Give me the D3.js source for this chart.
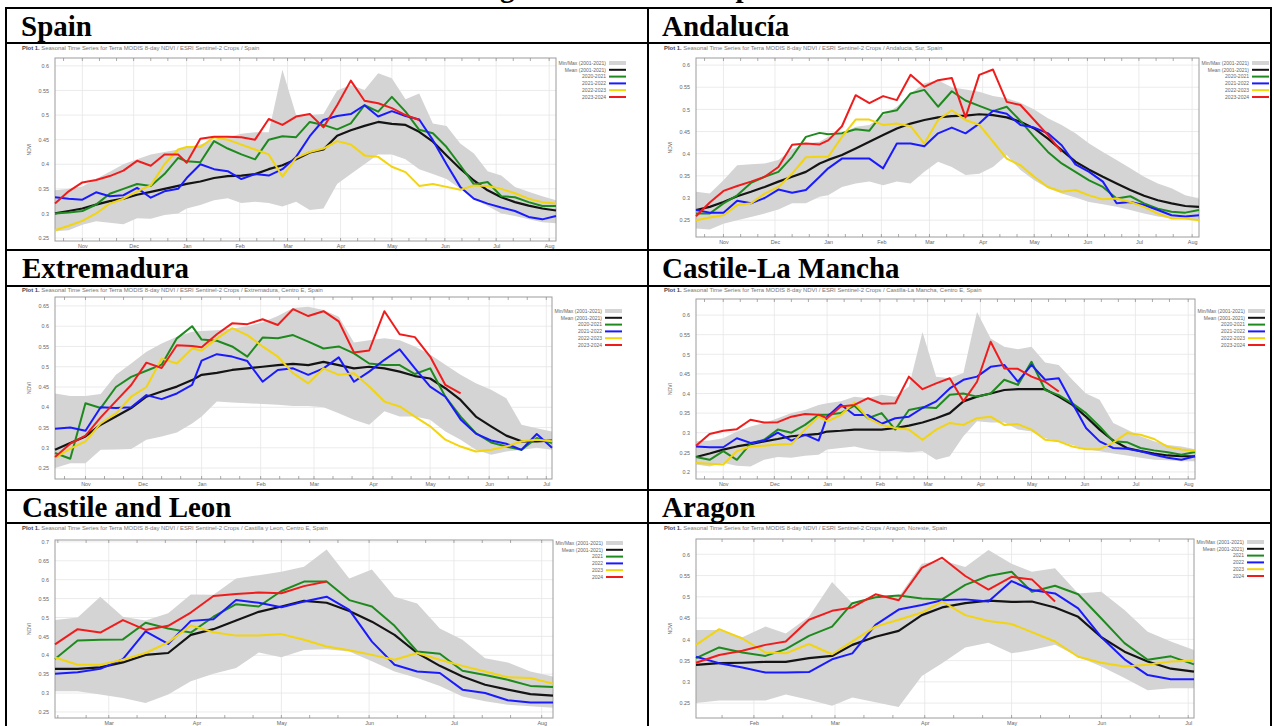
<!DOCTYPE html>
<html><head><meta charset="utf-8">
<script src="https://cdn.jsdelivr.net/npm/d3@7"></script>
<style>
body{margin:0;background:#fff}
svg{display:block}
.hd{font-family:"Liberation Serif","Times New Roman",serif;font-weight:bold;font-size:29px;fill:#000}
.sm{font-family:"Liberation Sans",Arial,sans-serif}
</style>
</head><body>
<svg id="c" width="1274" height="726"></svg>
<script>
// ---------------- DATA ----------------
const pageTitle = "NDVI Readings in Six Areas of Spain";
const subtitleBase = "Seasonal Time Series for Terra MODIS 8-day NDVI / ESRI Sentinel-2 Crops / ";

const datesOctAug = ["2000-10-16","2000-10-24","2000-11-01","2000-11-09","2000-11-17","2000-11-25","2000-12-03","2000-12-11","2000-12-19","2000-12-27","2001-01-01","2001-01-09","2001-01-17","2001-01-25","2001-02-02","2001-02-10","2001-02-18","2001-02-26","2001-03-06","2001-03-14","2001-03-22","2001-03-30","2001-04-07","2001-04-15","2001-04-23","2001-05-01","2001-05-09","2001-05-17","2001-05-25","2001-06-02","2001-06-10","2001-06-18","2001-06-26","2001-07-04","2001-07-12","2001-07-20","2001-07-28","2001-08-05"];
const datesOctJul = ["2000-10-16","2000-10-24","2000-11-01","2000-11-09","2000-11-17","2000-11-25","2000-12-03","2000-12-11","2000-12-19","2000-12-27","2001-01-01","2001-01-09","2001-01-17","2001-01-25","2001-02-02","2001-02-10","2001-02-18","2001-02-26","2001-03-06","2001-03-14","2001-03-22","2001-03-30","2001-04-07","2001-04-15","2001-04-23","2001-05-01","2001-05-09","2001-05-17","2001-05-25","2001-06-02","2001-06-10","2001-06-18","2001-06-26","2001-07-04"];
const datesFebAug = ["2001-02-10","2001-02-18","2001-02-26","2001-03-06","2001-03-14","2001-03-22","2001-03-30","2001-04-07","2001-04-15","2001-04-23","2001-05-01","2001-05-09","2001-05-17","2001-05-25","2001-06-02","2001-06-10","2001-06-18","2001-06-26","2001-07-04","2001-07-12","2001-07-20","2001-07-28","2001-08-05"];
const datesJanJul = ["2001-01-12","2001-01-20","2001-01-28","2001-02-05","2001-02-12","2001-02-20","2001-02-28","2001-03-07","2001-03-15","2001-03-23","2001-03-31","2001-04-07","2001-04-15","2001-04-23","2001-05-01","2001-05-08","2001-05-16","2001-05-24","2001-06-01","2001-06-09","2001-06-17","2001-06-25","2001-07-03"];

const legendBand = "Min/Max (2001-2021)";
const legendMean = "Mean (2001-2021)";
const legendSeasons = ["2020-2021","2021-2022","2022-2023","2023-2024"];
const legendYears = ["2021","2022","2023","2024"];

const ticksSpain = [0.25,0.3,0.35,0.4,0.45,0.5,0.55,0.6];
const ticksAnd = [0.25,0.3,0.35,0.4,0.45,0.5,0.55,0.6];
const ticksExt = [0.25,0.3,0.35,0.4,0.45,0.5,0.55,0.6,0.65];
const ticksClm = [0.2,0.25,0.3,0.35,0.4,0.45,0.5,0.55,0.6];
const ticksCyl = [0.25,0.3,0.35,0.4,0.45,0.5,0.55,0.6,0.65,0.7];
const ticksAra = [0.25,0.3,0.35,0.4,0.45,0.5,0.55,0.6];

// Spain
const spainMax = [0.347,0.35,0.355,0.37,0.385,0.40,0.41,0.42,0.425,0.43,0.435,0.44,0.45,0.455,0.462,0.465,0.465,0.592,0.50,0.50,0.502,0.55,0.561,0.551,0.585,0.575,0.532,0.544,0.483,0.478,0.442,0.422,0.386,0.377,0.354,0.344,0.335,0.327];
const spainMin = [0.264,0.266,0.277,0.284,0.281,0.278,0.29,0.289,0.297,0.30,0.31,0.317,0.327,0.331,0.321,0.324,0.321,0.314,0.324,0.307,0.31,0.36,0.38,0.40,0.42,0.42,0.41,0.39,0.38,0.37,0.35,0.33,0.315,0.30,0.295,0.288,0.282,0.28];
const spainMean = [0.30,0.305,0.31,0.318,0.325,0.33,0.338,0.344,0.35,0.356,0.36,0.365,0.372,0.376,0.377,0.38,0.39,0.398,0.41,0.424,0.43,0.458,0.469,0.478,0.486,0.482,0.48,0.466,0.446,0.418,0.391,0.367,0.347,0.333,0.323,0.316,0.31,0.306];
const spainS1 = [0.30,0.302,0.305,0.318,0.34,0.35,0.36,0.356,0.38,0.413,0.406,0.404,0.447,0.432,0.42,0.41,0.45,0.457,0.455,0.486,0.48,0.471,0.483,0.52,0.507,0.537,0.507,0.47,0.463,0.435,0.398,0.359,0.364,0.335,0.333,0.323,0.315,0.315];
const spainS2 = [0.333,0.33,0.328,0.343,0.335,0.337,0.352,0.332,0.345,0.35,0.372,0.40,0.39,0.386,0.37,0.38,0.377,0.39,0.415,0.457,0.49,0.498,0.502,0.52,0.497,0.508,0.498,0.491,0.449,0.40,0.354,0.33,0.32,0.312,0.305,0.293,0.288,0.295];
const spainS3 = [0.266,0.275,0.285,0.30,0.32,0.33,0.345,0.357,0.40,0.43,0.435,0.435,0.455,0.45,0.44,0.43,0.42,0.375,0.413,0.425,0.432,0.447,0.44,0.418,0.415,0.395,0.384,0.356,0.36,0.354,0.348,0.357,0.356,0.35,0.341,0.33,0.323,0.32];
const spainS4 = [0.32,0.345,0.363,0.368,0.376,0.387,0.407,0.397,0.42,0.42,0.403,0.452,0.456,0.456,0.455,0.45,0.492,0.48,0.497,0.502,0.475,0.52,0.57,0.529,0.524,0.514,0.50,0.49];

// Andalucia
const andMax = [0.314,0.31,0.34,0.374,0.376,0.378,0.386,0.41,0.423,0.427,0.438,0.446,0.461,0.465,0.487,0.506,0.536,0.559,0.566,0.55,0.545,0.54,0.53,0.525,0.515,0.50,0.48,0.465,0.446,0.423,0.404,0.386,0.367,0.348,0.333,0.322,0.306,0.299];
const andMin = [0.231,0.229,0.242,0.25,0.257,0.265,0.274,0.288,0.288,0.303,0.306,0.325,0.333,0.337,0.329,0.337,0.333,0.359,0.382,0.37,0.352,0.355,0.37,0.397,0.363,0.34,0.322,0.31,0.301,0.291,0.286,0.28,0.273,0.265,0.258,0.254,0.252,0.25];
const andMean = [0.273,0.28,0.291,0.304,0.314,0.325,0.337,0.348,0.359,0.378,0.386,0.397,0.412,0.427,0.442,0.457,0.468,0.476,0.482,0.485,0.486,0.489,0.487,0.482,0.472,0.457,0.434,0.408,0.382,0.364,0.348,0.333,0.318,0.305,0.295,0.288,0.282,0.28];
const andS1 = [0.265,0.265,0.288,0.306,0.334,0.348,0.359,0.393,0.438,0.447,0.444,0.446,0.455,0.452,0.492,0.498,0.536,0.544,0.506,0.541,0.52,0.508,0.496,0.506,0.474,0.438,0.404,0.378,0.359,0.34,0.325,0.299,0.304,0.288,0.276,0.269,0.267,0.273];
const andS2 = [0.273,0.267,0.267,0.294,0.288,0.30,0.319,0.312,0.318,0.348,0.367,0.389,0.389,0.389,0.367,0.423,0.423,0.417,0.446,0.459,0.446,0.468,0.497,0.49,0.465,0.459,0.446,0.419,0.376,0.359,0.337,0.288,0.291,0.284,0.273,0.261,0.258,0.261];
const andS3 = [0.25,0.256,0.261,0.284,0.288,0.31,0.325,0.355,0.392,0.393,0.393,0.438,0.477,0.477,0.465,0.468,0.462,0.423,0.476,0.498,0.476,0.465,0.427,0.389,0.374,0.348,0.325,0.314,0.318,0.306,0.297,0.299,0.291,0.28,0.265,0.254,0.254,0.25];
const andS4 = [0.259,0.29,0.316,0.327,0.337,0.348,0.37,0.42,0.423,0.421,0.43,0.462,0.532,0.514,0.53,0.521,0.578,0.551,0.566,0.571,0.482,0.578,0.59,0.517,0.51,0.476,0.442,0.404];

// Extremadura
const extMax = [0.434,0.428,0.428,0.433,0.48,0.508,0.537,0.557,0.574,0.586,0.588,0.59,0.594,0.60,0.61,0.625,0.645,0.648,0.64,0.623,0.56,0.565,0.57,0.565,0.55,0.53,0.505,0.48,0.459,0.443,0.422,0.357,0.348,0.34];
const extMin = [0.25,0.262,0.262,0.295,0.296,0.297,0.32,0.328,0.338,0.36,0.377,0.414,0.412,0.41,0.408,0.406,0.403,0.403,0.40,0.385,0.369,0.357,0.39,0.377,0.377,0.369,0.34,0.32,0.295,0.283,0.291,0.295,0.30,0.295];
const extMean = [0.295,0.312,0.328,0.357,0.377,0.398,0.426,0.439,0.451,0.467,0.48,0.485,0.492,0.496,0.50,0.504,0.507,0.504,0.512,0.504,0.496,0.50,0.496,0.488,0.477,0.471,0.447,0.418,0.377,0.353,0.33,0.316,0.316,0.318];
const extS1 = [0.287,0.273,0.41,0.398,0.45,0.475,0.49,0.505,0.57,0.60,0.567,0.564,0.55,0.525,0.572,0.57,0.578,0.562,0.545,0.55,0.533,0.508,0.504,0.504,0.482,0.496,0.426,0.377,0.336,0.313,0.303,0.295,0.324,0.312];
const extS2 = [0.347,0.35,0.342,0.40,0.398,0.40,0.43,0.42,0.434,0.455,0.515,0.531,0.525,0.514,0.463,0.492,0.496,0.48,0.496,0.523,0.463,0.488,0.517,0.543,0.496,0.451,0.426,0.37,0.335,0.318,0.31,0.295,0.334,0.30];
const extS3 = [0.275,0.298,0.316,0.36,0.385,0.426,0.45,0.52,0.508,0.545,0.54,0.57,0.595,0.578,0.55,0.525,0.484,0.459,0.496,0.48,0.484,0.451,0.414,0.402,0.377,0.353,0.32,0.303,0.291,0.295,0.303,0.316,0.32,0.316];
const extS4 = [0.277,0.31,0.33,0.375,0.415,0.455,0.51,0.497,0.553,0.551,0.548,0.58,0.607,0.605,0.617,0.603,0.642,0.625,0.637,0.612,0.535,0.54,0.637,0.58,0.573,0.525,0.455,0.434];

// Castilla-La Mancha
const clmMax = [0.278,0.28,0.286,0.303,0.316,0.325,0.337,0.35,0.358,0.371,0.375,0.38,0.392,0.388,0.397,0.392,0.418,0.557,0.443,0.439,0.452,0.608,0.54,0.519,0.513,0.519,0.479,0.473,0.435,0.40,0.384,0.325,0.308,0.291,0.278,0.269,0.265,0.258];
const clmMin = [0.219,0.214,0.223,0.216,0.214,0.231,0.238,0.236,0.241,0.244,0.257,0.261,0.265,0.257,0.253,0.253,0.25,0.253,0.231,0.24,0.291,0.329,0.326,0.326,0.308,0.303,0.286,0.278,0.269,0.258,0.253,0.247,0.242,0.236,0.231,0.23,0.227,0.227];
const clmMean = [0.238,0.247,0.257,0.265,0.271,0.278,0.284,0.291,0.294,0.297,0.303,0.305,0.308,0.308,0.308,0.312,0.318,0.326,0.337,0.35,0.38,0.392,0.40,0.409,0.411,0.411,0.411,0.392,0.371,0.341,0.308,0.28,0.261,0.253,0.247,0.242,0.24,0.24];
const clmS1 = [0.238,0.231,0.253,0.231,0.272,0.282,0.308,0.30,0.32,0.346,0.346,0.35,0.369,0.337,0.35,0.308,0.358,0.365,0.363,0.397,0.40,0.392,0.40,0.435,0.422,0.481,0.409,0.396,0.375,0.35,0.316,0.278,0.276,0.261,0.255,0.25,0.244,0.251];
const clmS2 = [0.265,0.263,0.263,0.286,0.274,0.28,0.30,0.28,0.295,0.28,0.341,0.372,0.345,0.345,0.323,0.337,0.341,0.363,0.38,0.413,0.435,0.443,0.468,0.473,0.43,0.473,0.435,0.439,0.375,0.312,0.278,0.261,0.259,0.253,0.244,0.236,0.231,0.24];
const clmS3 = [0.223,0.221,0.219,0.253,0.265,0.267,0.27,0.271,0.308,0.341,0.329,0.345,0.377,0.337,0.32,0.312,0.308,0.282,0.308,0.325,0.32,0.337,0.341,0.32,0.322,0.308,0.282,0.278,0.265,0.258,0.258,0.275,0.299,0.295,0.284,0.264,0.257,0.254];
const clmS4 = [0.267,0.297,0.305,0.309,0.333,0.326,0.327,0.341,0.348,0.346,0.337,0.367,0.371,0.388,0.374,0.375,0.443,0.411,0.426,0.439,0.38,0.43,0.532,0.464,0.463,0.443,0.43,0.405];

// Castilla y Leon
const cylMax = [0.493,0.50,0.555,0.502,0.492,0.511,0.561,0.56,0.603,0.612,0.621,0.634,0.68,0.603,0.627,0.555,0.537,0.471,0.441,0.392,0.381,0.357,0.344];
const cylMin = [0.305,0.305,0.296,0.287,0.274,0.296,0.331,0.351,0.366,0.407,0.395,0.414,0.416,0.41,0.384,0.357,0.34,0.319,0.291,0.278,0.269,0.265,0.261];
const cylMean = [0.364,0.364,0.368,0.381,0.401,0.406,0.454,0.469,0.492,0.515,0.529,0.544,0.539,0.517,0.489,0.454,0.406,0.372,0.344,0.322,0.309,0.297,0.293];
const cylS1 = [0.39,0.439,0.441,0.442,0.486,0.471,0.46,0.502,0.535,0.529,0.57,0.595,0.595,0.546,0.529,0.478,0.41,0.404,0.359,0.348,0.335,0.319,0.316];
const cylS2 = [0.351,0.355,0.364,0.39,0.463,0.43,0.491,0.495,0.546,0.539,0.527,0.542,0.555,0.52,0.436,0.375,0.357,0.353,0.309,0.30,0.281,0.275,0.275];
const cylS3 = [0.394,0.375,0.375,0.388,0.406,0.434,0.479,0.461,0.452,0.452,0.456,0.441,0.423,0.413,0.401,0.388,0.406,0.388,0.372,0.357,0.342,0.34,0.325];
const cylS4 = [0.429,0.469,0.46,0.493,0.467,0.478,0.513,0.557,0.562,0.566,0.564,0.583,0.595];

// Aragon
const araMax = [0.422,0.422,0.405,0.43,0.414,0.453,0.535,0.485,0.50,0.50,0.578,0.586,0.57,0.61,0.578,0.559,0.567,0.508,0.512,0.469,0.418,0.395,0.375];
const araMin = [0.25,0.256,0.256,0.256,0.27,0.258,0.244,0.263,0.252,0.241,0.314,0.344,0.381,0.392,0.367,0.375,0.387,0.359,0.336,0.309,0.28,0.285,0.285];
const araMean = [0.34,0.344,0.345,0.347,0.347,0.356,0.361,0.387,0.406,0.42,0.457,0.475,0.485,0.491,0.488,0.489,0.475,0.453,0.405,0.371,0.348,0.331,0.324];
const araS1 = [0.356,0.381,0.369,0.361,0.377,0.408,0.43,0.485,0.499,0.503,0.496,0.494,0.528,0.549,0.559,0.512,0.526,0.506,0.449,0.391,0.352,0.36,0.341];
const araS2 = [0.359,0.344,0.334,0.322,0.322,0.323,0.353,0.367,0.434,0.47,0.481,0.492,0.494,0.489,0.537,0.516,0.508,0.473,0.405,0.353,0.316,0.306,0.306];
const araS3 = [0.387,0.424,0.402,0.369,0.367,0.389,0.365,0.395,0.43,0.446,0.463,0.489,0.457,0.443,0.436,0.417,0.395,0.359,0.345,0.336,0.34,0.348,0.35];
const araS4 = [0.345,0.363,0.373,0.387,0.395,0.446,0.467,0.475,0.506,0.492,0.568,0.592,0.549,0.517,0.547,0.541,0.489];

// ---------------- LAYOUT / STYLE ----------------
const seriesColors = ["#1e8a1e","#1a1aff","#f2d40f","#f01c1c"];
const meanColor = "#141414";
const bandColor = "#d4d4d4";

const panels = [
  {head:"Spain", hx:21, hy:36, region:"Spain", sx:22, sy:50, frame:[55,58,556,241], ydom:[0.244,0.616], xdom:["2000-10-16","2001-08-05"], dates:datesOctAug, ticks:ticksSpain, min:spainMin, max:spainMax, mean:spainMean, series:[spainS1,spainS2,spainS3,spainS4], labels:legendSeasons, ldy:5},
  {head:"Andalucía", hx:662, hy:36, region:"Andalucia, Sur, Spain", sx:664, sy:50, frame:[696,58,1199,237], ydom:[0.212,0.616], xdom:["2000-10-16","2001-08-05"], dates:datesOctAug, ticks:ticksAnd, min:andMin, max:andMax, mean:andMean, series:[andS1,andS2,andS3,andS4], labels:legendSeasons, ldy:5},
  {head:"Extremadura", hx:22, hy:278, region:"Extremadura, Centro E, Spain", sx:22, sy:292, frame:[55,297,552,479], ydom:[0.223,0.672], xdom:["2000-10-16","2001-07-04"], dates:datesOctJul, ticks:ticksExt, min:extMin, max:extMax, mean:extMean, series:[extS1,extS2,extS3,extS4], labels:legendSeasons, ldy:14},
  {head:"Castile-La Mancha", hx:662, hy:278, region:"Castilla-La Mancha, Centro E, Spain", sx:664, sy:292, frame:[696,299,1195,479], ydom:[0.182,0.641], xdom:["2000-10-16","2001-08-05"], dates:datesOctAug, ticks:ticksClm, min:clmMin, max:clmMax, mean:clmMean, series:[clmS1,clmS2,clmS3,clmS4], labels:legendSeasons, ldy:12},
  {head:"Castile and Leon", hx:22, hy:517, region:"Castilla y Leon, Centro E, Spain", sx:22, sy:530, frame:[55,540,553,718], ydom:[0.234,0.705], xdom:["2001-02-10","2001-08-05"], dates:datesFebAug, ticks:ticksCyl, min:cylMin, max:cylMax, mean:cylMean, series:[cylS1,cylS2,cylS3,cylS4], labels:legendYears, ldy:3},
  {head:"Aragon", hx:662, hy:517, region:"Aragon, Noreste, Spain", sx:664, sy:530, frame:[696,539,1194,718], ydom:[0.215,0.636], xdom:["2001-01-12","2001-07-03"], dates:datesJanJul, ticks:ticksAra, min:araMin, max:araMax, mean:araMean, series:[araS1,araS2,araS3,araS4], labels:legendYears, ldy:3}
];

const parse = d3.timeParse("%Y-%m-%d");
const svg = d3.select("#c");
svg.append("rect").attr("width",1274).attr("height",726).attr("fill","#fff");

// page title (cut at the top edge, as in the source page)
svg.append("text").attr("class","hd").attr("x",330).attr("y",-3).text(pageTitle);

panels.forEach(p => {
  const [L,T,R,B] = p.frame;
  const g = svg.append("g");
  const x = d3.scaleTime().domain(p.xdom.map(parse)).range([L,R]);
  const y = d3.scaleLinear().domain(p.ydom).range([B,T]);
  const dts = p.dates.map(parse);

  // subtitle
  const st = g.append("text").attr("class","sm").attr("x",p.sx).attr("y",p.sy).attr("font-size",5.9).attr("fill","#777");
  st.append("tspan").attr("font-weight","bold").attr("fill","#444").text("Plot 1. ");
  st.append("tspan").text(subtitleBase + p.region);

  // grid
  g.append("g").selectAll("line").data(p.ticks).join("line")
    .attr("x1",L).attr("x2",R).attr("y1",d=>y(d)).attr("y2",d=>y(d))
    .attr("stroke","#e6e6e6").attr("stroke-width",0.8);
  const months = x.ticks(d3.timeMonth.every(1));
  g.append("g").selectAll("line").data(months).join("line")
    .attr("x1",d=>x(d)).attr("x2",d=>x(d)).attr("y1",T).attr("y2",B)
    .attr("stroke","#e6e6e6").attr("stroke-width",0.8);

  // min/max band
  const area = d3.area().x((d,i)=>x(dts[i])).y0((d,i)=>y(p.min[i])).y1(d=>y(d));
  g.append("path").datum(p.max).attr("d",area).attr("fill",bandColor);

  // frame
  g.append("rect").attr("x",L).attr("y",T).attr("width",R-L).attr("height",B-T)
    .attr("fill","none").attr("stroke","#9c9c9c").attr("stroke-width",1);
  // minor ticks on top/bottom
  const minor = x.ticks(d3.timeDay.filter(d => d.getDate()===1 || d.getDate()===11 || d.getDate()===21));
  g.append("g").selectAll("line").data(minor).join("line")
    .attr("x1",d=>x(d)).attr("x2",d=>x(d)).attr("y1",B).attr("y2",B-3).attr("stroke","#888").attr("stroke-width",0.7);
  g.append("g").selectAll("line").data(minor).join("line")
    .attr("x1",d=>x(d)).attr("x2",d=>x(d)).attr("y1",T).attr("y2",T+3).attr("stroke","#888").attr("stroke-width",0.7);

  // lines
  const line = d3.line().x((d,i)=>x(dts[i])).y(d=>y(d));
  g.append("path").datum(p.mean).attr("d",line).attr("fill","none").attr("stroke",meanColor).attr("stroke-width",2.2).attr("stroke-linejoin","round");
  p.series.forEach((s,k) => {
    g.append("path").datum(s).attr("d",line).attr("fill","none").attr("stroke",seriesColors[k]).attr("stroke-width",2).attr("stroke-linejoin","round");
  });

  // axes
  const ya = g.append("g").attr("transform",`translate(${L},0)`)
    .call(d3.axisLeft(y).tickValues(p.ticks).tickFormat(d3.format("~g")).tickSize(0).tickPadding(6));
  const xa = g.append("g").attr("transform",`translate(0,${B})`)
    .call(d3.axisBottom(x).ticks(d3.timeMonth.every(1)).tickFormat(d3.timeFormat("%b")).tickSize(0).tickPadding(3));
  [ya,xa].forEach(a => {
    a.select(".domain").remove();
    a.selectAll("text").attr("font-family","Liberation Sans, Arial, sans-serif").attr("font-size",5.4).attr("fill","#666");
  });
  g.append("text").attr("class","sm").attr("font-size",5).attr("fill","#666").attr("text-anchor","middle")
    .attr("transform",`translate(${L-24},${(T+B)/2}) rotate(-90)`).text("NDVI");

  // legend
  const items = [{t:legendBand,c:bandColor,w:4},{t:legendMean,c:meanColor,w:2}]
    .concat(p.labels.map((t,k)=>({t:t,c:seriesColors[k],w:2})));
  const lg = g.append("g");
  items.forEach((it,i) => {
    const yy = T + p.ldy + i*6.8;
    lg.append("text").attr("class","sm").attr("x",R+50).attr("y",yy).attr("dy","0.35em")
      .attr("text-anchor","end").attr("font-size",5).attr("fill","#666").text(it.t);
    lg.append("line").attr("x1",R+53).attr("x2",R+70).attr("y1",yy).attr("y2",yy)
      .attr("stroke",it.c).attr("stroke-width",it.w);
  });

  // heading
  svg.append("text").attr("class","hd").attr("x",p.hx).attr("y",p.hy).text(p.head);
});

// table rules
const hLines = [8,43,250,286,490,523];
const vLines = [6,648,1271];
svg.append("g").selectAll("line").data(hLines).join("line")
  .attr("x1",5).attr("x2",1272).attr("y1",d=>d).attr("y2",d=>d).attr("stroke","#000").attr("stroke-width",2);
svg.append("g").selectAll("line").data(vLines).join("line")
  .attr("x1",d=>d).attr("x2",d=>d).attr("y1",7).attr("y2",726).attr("stroke","#000").attr("stroke-width",2);
</script>
</body></html>
